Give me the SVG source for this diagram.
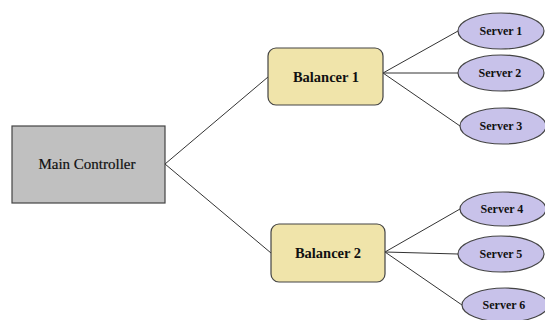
<svg xmlns="http://www.w3.org/2000/svg" width="545" height="320" viewBox="0 0 545 320">
<style>
.c{stroke:#333;stroke-width:1;fill:none}
.main{fill:#c0c0c0;stroke:#444;stroke-width:1.2}
.bal{fill:#f0e4aa;stroke:#444;stroke-width:1.2}
.srv{fill:#c8c2ea;stroke:#444;stroke-width:1.2}
text{font-family:"Liberation Serif","Times New Roman",serif;fill:#111;text-anchor:middle;dominant-baseline:central}
.tm{font-size:15px;stroke:#111;stroke-width:0.2}
.tb{font-size:14.5px;font-weight:bold}
.ts{font-size:12px;font-weight:bold}
</style>
<rect width="545" height="320" fill="#fff"/>
<g id="connectors">
<line class="c" x1="165" y1="164" x2="268" y2="77"/>
<line class="c" x1="165" y1="164" x2="271" y2="253"/>
<line class="c" x1="383" y1="73" x2="458" y2="31"/>
<line class="c" x1="383" y1="73" x2="458" y2="73"/>
<line class="c" x1="383" y1="73" x2="460" y2="126"/>
<line class="c" x1="385" y1="252" x2="460" y2="209"/>
<line class="c" x1="385" y1="252" x2="458" y2="254"/>
<line class="c" x1="385" y1="252" x2="462" y2="305"/>
</g>
<g id="main"><rect class="main" x="12" y="126" width="153" height="77"/><text class="tm" x="87" y="164">Main Controller</text></g>
<g id="bal1"><rect class="bal" x="268" y="48" width="115" height="57" rx="8"/><text class="tb" x="326" y="77">Balancer 1</text></g>
<g id="bal2"><rect class="bal" x="271" y="224" width="114" height="58" rx="8"/><text class="tb" x="328" y="253">Balancer 2</text></g>
<g id="s1"><ellipse class="srv" cx="501" cy="31" rx="43" ry="18"/><text class="ts" x="501" y="31">Server 1</text></g>
<g id="s2"><ellipse class="srv" cx="501" cy="73" rx="43" ry="18"/><text class="ts" x="500" y="73">Server 2</text></g>
<g id="s3"><ellipse class="srv" cx="503" cy="126" rx="43" ry="18"/><text class="ts" x="501" y="126">Server 3</text></g>
<g id="s4"><ellipse class="srv" cx="503" cy="209" rx="43" ry="17"/><text class="ts" x="502" y="209">Server 4</text></g>
<g id="s5"><ellipse class="srv" cx="501" cy="254" rx="43" ry="18"/><text class="ts" x="501" y="254">Server 5</text></g>
<g id="s6"><ellipse class="srv" cx="505" cy="305" rx="43" ry="17"/><text class="ts" x="504" y="305">Server 6</text></g>
</svg>
